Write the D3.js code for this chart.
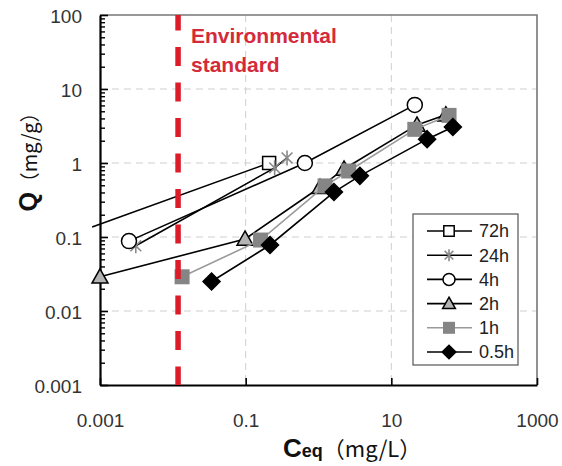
<!DOCTYPE html>
<html>
<head>
<meta charset="utf-8">
<script src="https://cdn.jsdelivr.net/npm/d3@7"></script>
<style>
  body { margin: 0; background: #fff; }
  svg { display: block; }
</style>
</head>
<body>
<svg id="chart" width="562" height="466"></svg>
<script>
// Adsorption isotherms: equilibrium concentration (mg/L) vs. adsorbed amount (mg/g)
const seriesNames = ["72h", "24h", "4h", "2h", "1h", "0.5h"];

const ceq72h = [0.00078, 0.21];
const q72h   = [0.136, 1.0];

const ceq24h = [0.0031, 0.25, 0.37];
const q24h   = [0.076, 0.86, 1.17];

const ceq4h = [0.0025, 0.65, 21];
const q4h   = [0.088, 1.0, 6.1];

const ceq2h = [0.001, 0.098, 1.05, 2.24, 22.5, 56];
const q2h   = [0.029, 0.094, 0.47, 0.83, 3.27, 4.5];

const ceq1h = [0.0134, 0.16, 1.23, 2.6, 21, 62];
const q1h   = [0.029, 0.091, 0.49, 0.78, 2.85, 4.4];

const ceq05h = [0.034, 0.216, 1.63, 3.7, 31, 70];
const q05h   = [0.025, 0.078, 0.405, 0.67, 2.1, 3.06];

const envStandard = 0.0118;

const xTickValues = [0.001, 0.1, 10, 1000];
const yTickValues = [0.001, 0.01, 0.1, 1, 10, 100];

const ceqList = [ceq72h, ceq24h, ceq4h, ceq2h, ceq1h, ceq05h];
const qList   = [q72h, q24h, q4h, q2h, q1h, q05h];

const styles = {
  "72h":  { marker: "square",   fill: "#fff",    stroke: "#000", size: 13, line: "#000" },
  "24h":  { marker: "asterisk", fill: "none",    stroke: "#8a8a8a", size: 15, line: "#000" },
  "4h":   { marker: "circle",   fill: "#fff",    stroke: "#000", size: 15, line: "#000" },
  "2h":   { marker: "triangle", fill: "#b4b4b4", stroke: "#000", size: 16, line: "#000" },
  "1h":   { marker: "square",   fill: "#858585", stroke: "none", size: 15, line: "#9a9a9a" },
  "0.5h": { marker: "diamond",  fill: "#000",    stroke: "#000", size: 17, line: "#000" }
};

const series = seriesNames.map((name, i) => ({
  name,
  points: ceqList[i].map((c, j) => ({ c, q: qList[i][j] }))
}));

const svg = d3.select("#chart");
const pLeft = 100, pRight = 537, pTop = 15, pBottom = 385;

const x = d3.scaleLog().domain([0.001, 1000]).range([pLeft, pRight]);
const y = d3.scaleLog().domain([0.001, 100]).range([pBottom, pTop]);

const tickFont = "'Liberation Sans', Arial, sans-serif";

// gridlines
const grid = svg.append("g").attr("stroke", "#cfcfcf").attr("stroke-width", 1)
  .attr("stroke-dasharray", "7,5");
grid.selectAll("line.h").data([0.01, 0.1, 1, 10]).join("line")
  .attr("x1", pLeft).attr("x2", pRight)
  .attr("y1", d => y(d)).attr("y2", d => y(d));
grid.selectAll("line.v").data([0.1, 10]).join("line")
  .attr("y1", pTop).attr("y2", pBottom)
  .attr("x1", d => x(d)).attr("x2", d => x(d));

// top and right frame
svg.append("path")
  .attr("d", `M${pLeft},${pTop}H${pRight}V${pBottom}`)
  .attr("fill", "none").attr("stroke", "#777").attr("stroke-width", 1.6);

// y axis: major ticks with labels, minor ticks inward
const minorY = [];
for (let e = -3; e < 2; e++) for (let k = 2; k <= 9; k++) minorY.push(k * Math.pow(10, e));

svg.append("g").attr("transform", `translate(${pLeft},0)`)
  .call(d3.axisLeft(y).tickValues(minorY).tickSize(-5).tickSizeOuter(0).tickFormat(""))
  .call(g => g.select(".domain").remove())
  .call(g => g.selectAll("line").attr("stroke", "#000").attr("stroke-width", 1.4));

const yAxis = svg.append("g").attr("transform", `translate(${pLeft},0)`)
  .call(d3.axisLeft(y).tickValues(yTickValues).tickSize(-8).tickSizeOuter(0)
    .tickPadding(18).tickFormat(d => d3.format("~g")(d)));
yAxis.select(".domain").attr("stroke", "#000").attr("stroke-width", 2.2);
yAxis.selectAll("line").attr("stroke", "#000").attr("stroke-width", 1.6);
yAxis.selectAll("text").attr("font-family", tickFont).attr("font-size", 19)
  .attr("fill", "#333").attr("dy", "0.42em");

// x axis
const xAxis = svg.append("g").attr("transform", `translate(0,${pBottom})`)
  .call(d3.axisBottom(x).tickValues(xTickValues).tickSize(-7).tickSizeOuter(0)
    .tickPadding(29).tickFormat(d => d3.format("~g")(d)));
xAxis.select(".domain").attr("stroke", "#000").attr("stroke-width", 2.2);
xAxis.selectAll("line").attr("stroke", "#000").attr("stroke-width", 1.6);
xAxis.selectAll("text").attr("font-family", tickFont).attr("font-size", 19)
  .attr("fill", "#333");

// marker shapes
function markerPath(type, s) {
  const h = s / 2;
  switch (type) {
    case "square": return `M${-h},${-h}H${h}V${h}H${-h}Z`;
    case "diamond": return `M0,${-h}L${h},0L0,${h}L${-h},0Z`;
    case "triangle": return `M0,${-h}L${h},${h * 0.78}L${-h},${h * 0.78}Z`;
    case "circle": return d3.arc()({ innerRadius: 0, outerRadius: h, startAngle: 0, endAngle: 2 * Math.PI });
    case "asterisk": {
      const a = h * 0.72;
      return `M0,${-h}V${h}M${-a},${-a}L${a},${a}M${-a},${a}L${a},${-a}`;
    }
  }
}

function drawMarker(sel, st, size) {
  sel.append("path")
    .attr("d", markerPath(st.marker, size))
    .attr("fill", st.marker === "asterisk" ? "none" : st.fill)
    .attr("stroke", st.stroke)
    .attr("stroke-width", st.marker === "asterisk" ? 1.6 : 1.5);
}

const line = d3.line().x(d => x(d.c)).y(d => y(d.q));

const plot = svg.append("g");
series.forEach(s => {
  const st = styles[s.name];
  const g = plot.append("g");
  g.append("path").datum(s.points).attr("d", line)
    .attr("fill", "none").attr("stroke", st.line).attr("stroke-width", 1.6);
  g.selectAll("g.pt").data(s.points.filter(p => p.c >= 0.001)).join("g")
    .attr("transform", d => `translate(${x(d.c)},${y(d.q)})`)
    .each(function () { drawMarker(d3.select(this), st, st.size); });
});

// environmental standard
svg.append("line")
  .attr("x1", x(envStandard)).attr("x2", x(envStandard))
  .attr("y1", pTop).attr("y2", pBottom)
  .attr("stroke", "#dc1c28").attr("stroke-width", 5.5)
  .attr("stroke-dasharray", "19,16.5").attr("stroke-dashoffset", 3.5);

const envText = svg.append("text")
  .attr("font-family", tickFont).attr("font-weight", "bold").attr("font-size", 21)
  .attr("fill", "#d42a3a");
envText.append("tspan").attr("x", 191).attr("y", 43).text("Environmental");
envText.append("tspan").attr("x", 191).attr("y", 72).text("standard");

// legend
const lg = svg.append("g");
lg.append("rect").attr("x", 413).attr("y", 214).attr("width", 105).attr("height", 151)
  .attr("fill", "#fff").attr("stroke", "#555").attr("stroke-width", 1.2);
seriesNames.forEach((name, i) => {
  const st = styles[name];
  const cy = 231 + i * 24.2;
  const row = lg.append("g").attr("transform", `translate(0,${cy})`);
  row.append("line").attr("x1", 427).attr("x2", 472).attr("y1", 0).attr("y2", 0)
    .attr("stroke", st.line).attr("stroke-width", 1.6);
  const m = row.append("g").attr("transform", "translate(449,0)");
  drawMarker(m, st, st.size * 0.8);
  row.append("text").attr("x", 479).attr("y", 0).attr("dy", "0.36em")
    .attr("font-family", tickFont).attr("font-size", 18).attr("fill", "#222").text(name);
});

// axis titles
const xt = svg.append("text").attr("x", 283).attr("y", 457).attr("fill", "#111");
xt.append("tspan").attr("font-family", tickFont).attr("font-weight", "bold")
  .attr("font-size", 26).text("C");
xt.append("tspan").attr("font-family", tickFont).attr("font-weight", "bold")
  .attr("font-size", 18).text("eq");
xt.append("tspan").attr("font-family", "'Noto Sans CJK JP', sans-serif")
  .attr("font-size", 22).text("（mg/L）");

const yt = svg.append("text").attr("transform", "translate(37,157) rotate(-90)")
  .attr("text-anchor", "middle").attr("fill", "#111");
yt.append("tspan").attr("font-family", tickFont).attr("font-weight", "bold")
  .attr("font-size", 25).text("Q");
yt.append("tspan").attr("font-family", "'Noto Sans CJK JP', sans-serif")
  .attr("font-size", 20).text("（mg/g）");
</script>
</body>
</html>
